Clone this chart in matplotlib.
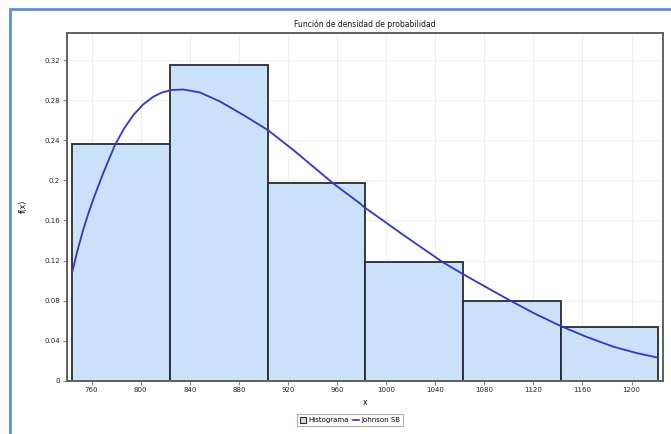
import matplotlib
matplotlib.use("Agg")
import matplotlib.pyplot as plt
from matplotlib.patches import Rectangle, Patch
from matplotlib.lines import Line2D
import numpy as np

# ---- data ----
bin_edges = [744.4, 824.0, 903.5, 983.1, 1062.7, 1142.2, 1221.8]
bar_heights = [0.236, 0.315, 0.1975, 0.119, 0.080, 0.0535]

curve_x = [744.4, 748.2, 753.3, 757.1, 761.5, 769.4, 779.1, 786.5, 794.1, 802.0,
           810.4, 817.4, 825.3, 834.8, 848.4, 864.7, 883.7, 903.6, 924.4, 940.0,
           957.0, 978.8, 982.6, 1014.1, 1046.6, 1062.5, 1082.0, 1101.0, 1121.0,
           1141.7, 1163.0, 1185.2, 1205.0, 1221.8]
curve_y = [0.109, 0.1285, 0.151, 0.166, 0.1815, 0.207, 0.2355, 0.252, 0.2655, 0.276,
           0.2838, 0.288, 0.2905, 0.291, 0.288, 0.279, 0.2655, 0.2505, 0.2305, 0.2145,
           0.197, 0.177, 0.173, 0.1455, 0.118, 0.1065, 0.093, 0.080, 0.067,
           0.0548, 0.0438, 0.0338, 0.0272, 0.0228]

x_ticks = [760, 800, 840, 880, 920, 960, 1000, 1040, 1080, 1120, 1160, 1200]
y_ticks = [0, 0.04, 0.08, 0.12, 0.16, 0.2, 0.24, 0.28, 0.32]
y_tick_labels = ["0", "0.04", "0.08", "0.12", "0.16", "0.2", "0.24", "0.28", "0.32"]

title = "Función de densidad de probabilidad"
legend_labels = ["Histograma", "Johnson SB"]

# ---- figure ----
W, H = 671, 434
fig = plt.figure(figsize=(W / 100, H / 100), dpi=100)
fig.patch.set_facecolor("white")

# outer blue frame (left and top edges visible)
fig.add_artist(Rectangle((10 / W, -0.05), 1.2, (H - 9) / H + 0.05,
                         transform=fig.transFigure, fill=False,
                         edgecolor="#5d8fcf", linewidth=2.0))

ax = fig.add_axes([67 / W, (H - 380.5) / H, (663.3 - 67) / W, (380.5 - 33) / H])

lefts = bin_edges[:-1]
widths = [bin_edges[i + 1] - bin_edges[i] for i in range(len(bar_heights))]
ax.bar(lefts, bar_heights, width=widths, align="edge", color="#c9e2fa",
       edgecolor="#2b2b2b", linewidth=1.3, zorder=2)
ax.plot(curve_x, curve_y, color="#3434c8", linewidth=1.3, zorder=3,
        solid_joinstyle="round")

ax.set_xlim(740.0, 1225.9)
ax.set_ylim(0, 0.3475)
ax.set_xticks(x_ticks)
ax.set_xticklabels([str(t) for t in x_ticks])
ax.set_yticks(y_ticks)
ax.set_yticklabels(y_tick_labels)
ax.grid(True, color="#efefef", linewidth=0.8, zorder=0)
ax.set_axisbelow(True)

for s in ax.spines.values():
    s.set_color("#606060")
    s.set_linewidth(1.4)

ax.tick_params(axis="both", labelsize=5, length=3, width=0.8, color="#888888",
               labelcolor="#222222", pad=2)

ax.set_title(title, fontsize=5.5, pad=4, color="#111111")
ax.set_xlabel("x", fontsize=5.5, labelpad=3)
ax.set_ylabel("f(x)", fontsize=5.5, labelpad=12)

handles = [Patch(facecolor="#c9e2fa", edgecolor="#2b2b2b", linewidth=0.8),
           Line2D([0], [0], color="#3434c8", linewidth=1.2)]
leg = fig.legend(handles, legend_labels, loc="center", bbox_to_anchor=(350 / W, (H - 420) / H),
                 ncol=2, fontsize=5, frameon=True, fancybox=False, handlelength=0.9,
                 handleheight=0.9, handletextpad=0.3, columnspacing=0.6,
                 borderpad=0.35, edgecolor="#999999")
leg.get_frame().set_linewidth(0.8)

fig.savefig("out.png", dpi=100)
